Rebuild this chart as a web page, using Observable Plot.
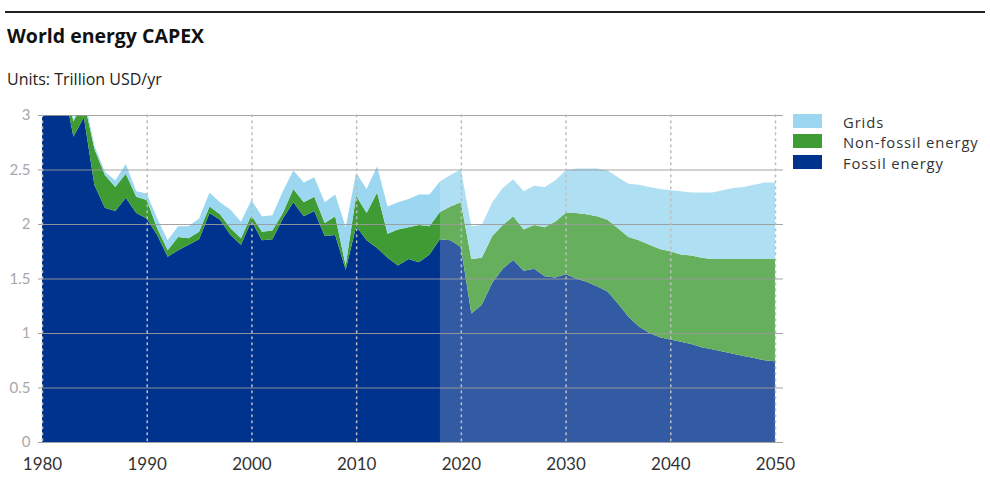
<!DOCTYPE html>
<html>
<head>
<meta charset="utf-8">
<script src="https://cdn.jsdelivr.net/npm/d3@7"></script>
<script src="https://cdn.jsdelivr.net/npm/@observablehq/plot@0.6"></script>
<style>
  html, body { margin: 0; padding: 0; background: #fff; }
  body { width: 990px; height: 484px; position: relative; overflow: hidden; font-family: "Open Sans", Lato, sans-serif; color: #222; }
  #rule { position: absolute; left: 5px; top: 11px; width: 980px; height: 2px; background: #222; }
  #title { position: absolute; left: 7px; top: 26px; font-size: 19.5px; font-weight: 700; line-height: 20px; color: #111; }
  #subtitle { position: absolute; left: 7px; top: 71px; font-size: 16px; line-height: 16px; color: #222; }
  #chart { position: absolute; left: 0; top: 100px; }
  #legend { position: absolute; left: 793px; top: 114px; }
  .row { position: absolute; left: 0; height: 14px; white-space: nowrap; }
  .sw { position: absolute; left: 0; top: 0; width: 29px; height: 14px; }
  .lab { position: absolute; left: 50px; top: -2px; font-size: 14.8px; letter-spacing: 0.9px; line-height: 20px; color: #333; }
</style>
</head>
<body>
<div id="rule"></div>
<div id="title">World energy CAPEX</div>
<div id="subtitle">Units: Trillion USD/yr</div>
<div id="chart"></div>
<div id="legend"></div>
<script>
const years = [1980,1981,1982,1983,1984,1985,1986,1987,1988,1989,
  1990,1991,1992,1993,1994,1995,1996,1997,1998,1999,
  2000,2001,2002,2003,2004,2005,2006,2007,2008,2009,
  2010,2011,2012,2013,2014,2015,2016,2017,2018,2019,
  2020,2021,2022,2023,2024,2025,2026,2027,2028,2029,
  2030,2031,2032,2033,2034,2035,2036,2037,2038,2039,
  2040,2041,2042,2043,2044,2045,2046,2047,2048,2049,2050];

const fossil = [3.20,3.20,3.30,2.80,2.98,2.36,2.15,2.12,2.24,2.10,
  2.05,1.90,1.70,1.76,1.81,1.86,2.10,2.04,1.90,1.81,
  2.03,1.85,1.86,2.05,2.20,2.07,2.12,1.89,1.90,1.58,
  1.98,1.85,1.78,1.69,1.62,1.68,1.65,1.72,1.86,1.85,
  1.79,1.18,1.26,1.46,1.59,1.67,1.57,1.59,1.52,1.51,
  1.54,1.50,1.47,1.43,1.38,1.27,1.15,1.06,1.00,0.96,
  0.94,0.92,0.90,0.87,0.85,0.83,0.81,0.79,0.77,0.75,0.74];

const nonFossil = [0.08,0.08,0.08,0.14,0.15,0.33,0.30,0.22,0.22,0.15,
  0.17,0.06,0.06,0.12,0.06,0.07,0.06,0.05,0.06,0.06,
  0.05,0.08,0.08,0.05,0.12,0.13,0.13,0.12,0.17,0.04,
  0.28,0.25,0.51,0.22,0.33,0.29,0.34,0.26,0.25,0.31,
  0.41,0.50,0.43,0.43,0.40,0.40,0.38,0.40,0.45,0.51,
  0.56,0.60,0.62,0.64,0.66,0.69,0.73,0.79,0.81,0.81,
  0.81,0.80,0.81,0.82,0.83,0.85,0.87,0.89,0.91,0.93,0.94];

const grids = [0.05,0.05,0.05,0.02,0.05,0.03,0.03,0.06,0.09,0.05,
  0.06,0.09,0.09,0.10,0.11,0.12,0.13,0.11,0.17,0.15,
  0.14,0.14,0.14,0.20,0.17,0.18,0.18,0.19,0.20,0.35,
  0.21,0.22,0.24,0.25,0.25,0.26,0.28,0.29,0.28,0.29,
  0.30,0.30,0.30,0.31,0.34,0.34,0.35,0.36,0.37,0.38,
  0.39,0.41,0.42,0.44,0.45,0.47,0.49,0.51,0.53,0.55,
  0.56,0.58,0.58,0.60,0.61,0.63,0.65,0.66,0.68,0.70,0.70];

const seriesNames = ["Grids", "Non-fossil energy", "Fossil energy"];
const seriesColors = ["#9bd7f0", "#3f9c35", "#00338d"];
const stackOrder = ["Fossil energy", "Non-fossil energy", "Grids"];
const yTicks = [0, 0.5, 1, 1.5, 2, 2.5, 3];
const yTickLabels = ["0", "0.5", "1", "1.5", "2", "2.5", "3"];
const xTicks = [1980, 1990, 2000, 2010, 2020, 2030, 2040, 2050];
const forecastStart = 2018;

const seriesValues = {"Fossil energy": fossil, "Non-fossil energy": nonFossil, "Grids": grids};
const data = [];
for (const name of stackOrder) {
  seriesValues[name].forEach((v, i) => data.push({year: years[i], series: name, value: v}));
}
const forecast = [{start: forecastStart, end: years[years.length - 1]}];

const chart = Plot.plot({
  width: 990,
  height: 380,
  marginTop: 15,
  marginBottom: 38,
  marginLeft: 42,
  marginRight: 215,
  style: {fontFamily: "Lato, 'Open Sans', sans-serif", fontSize: "15px", background: "transparent"},
  x: {domain: [years[0], years[years.length - 1]]},
  y: {domain: [yTicks[0], yTicks[yTicks.length - 1]]},
  color: {domain: seriesNames, range: seriesColors},
  marks: [
    Plot.areaY(data, {x: "year", y: "value", fill: "series", z: "series", order: stackOrder, clip: true}),
    Plot.rect(forecast, {x1: "start", x2: "end", y1: yTicks[0], y2: yTicks[yTicks.length - 1], fill: "white", fillOpacity: 0.2}),
    Plot.ruleY(yTicks, {stroke: "#9a9a9a", strokeWidth: 1, strokeOpacity: 0.9, insetLeft: -4, insetRight: -8}),
    Plot.ruleX(xTicks, {stroke: "#bdbdbd", strokeWidth: 1.6, strokeDasharray: "1.6,4.4", strokeLinecap: "round"}),
    Plot.axisY(yTicks, {label: null, tickSize: 0, tickPadding: 12, fontSize: 15, color: "#a8a8a8", tickFormat: (d, i) => yTickLabels[i]}),
    Plot.axisX(xTicks, {label: null, tickSize: 0, tickPadding: 15, fontSize: 17, color: "#333", tickFormat: d => String(d)})
  ]
});
document.getElementById("chart").appendChild(chart);

const legend = document.getElementById("legend");
seriesNames.forEach((name, i) => {
  const row = document.createElement("div");
  row.className = "row";
  row.style.top = (i * 20.4) + "px";
  const sw = document.createElement("div");
  sw.className = "sw";
  sw.style.background = seriesColors[i];
  const lab = document.createElement("div");
  lab.className = "lab";
  lab.textContent = name;
  row.appendChild(sw);
  row.appendChild(lab);
  legend.appendChild(row);
});
</script>
</body>
</html>
